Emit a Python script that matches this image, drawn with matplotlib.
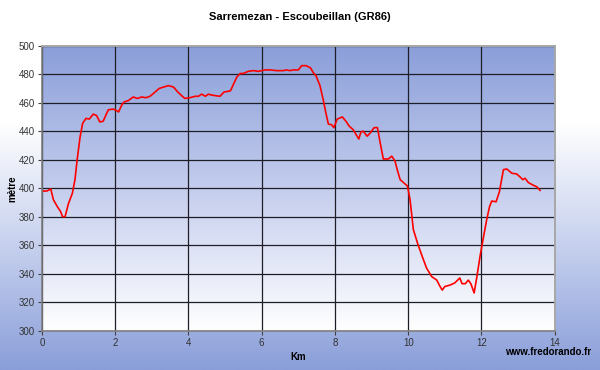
import numpy as np
import matplotlib
matplotlib.use("Agg")
import matplotlib.pyplot as plt
from matplotlib.colors import LinearSegmentedColormap

title = "Sarremezan - Escoubeillan (GR86)"
xlabel = "Km"
ylabel = "mètre"
credit = "www.fredorando.fr"
xticks = [0, 2, 4, 6, 8, 10, 12, 14]
yticks = [300, 320, 340, 360, 380, 400, 420, 440, 460, 480, 500]

km = [0.00, 0.13, 0.24, 0.31, 0.42, 0.51, 0.56, 0.63, 0.72, 0.83, 0.90, 0.96,
      1.04, 1.11, 1.20, 1.29, 1.40, 1.49, 1.58, 1.67, 1.75, 1.81, 1.93, 2.00,
      2.09, 2.18, 2.24, 2.36, 2.49, 2.60, 2.72, 2.84, 2.95, 3.09, 3.20, 3.33,
      3.45, 3.59, 3.69, 3.79, 3.90, 4.04, 4.18, 4.27, 4.36, 4.46, 4.54, 4.61,
      4.72, 4.86, 4.97, 5.09, 5.15, 5.22, 5.32, 5.41, 5.50, 5.63, 5.77, 5.91,
      6.00, 6.09, 6.23, 6.41, 6.59, 6.68, 6.77, 6.86, 7.00, 7.09, 7.21, 7.33,
      7.41, 7.48, 7.59, 7.68, 7.75, 7.82, 7.91, 7.97, 8.06, 8.20, 8.30, 8.39,
      8.50, 8.57, 8.65, 8.71, 8.77, 8.88, 8.97, 9.07, 9.16, 9.23, 9.32, 9.46,
      9.55, 9.64, 9.70, 9.78, 9.87, 9.98, 10.05, 10.14, 10.26, 10.37, 10.50,
      10.64, 10.78, 10.87, 10.93, 11.00, 11.14, 11.27, 11.41, 11.47, 11.56,
      11.64, 11.71, 11.80, 11.87, 11.96, 12.05, 12.14, 12.22, 12.28, 12.40,
      12.49, 12.60, 12.69, 12.83, 12.96, 13.05, 13.13, 13.19, 13.28, 13.42,
      13.51, 13.60]
alt = [398, 398, 399.5, 392, 387, 383.5, 380, 380, 389, 396.5, 406, 420,
       436, 445.5, 449, 448.5, 452, 451, 446.5, 447, 451.5, 455, 455.5, 455,
       453.5, 458.5, 460.5, 461.5, 464, 463, 464, 463.5, 464.5, 467.5, 470, 471,
       472, 471, 468, 465.5, 463, 463.5, 464.5, 464.5, 466, 464.5, 466, 465.5,
       465, 464.5, 467.5, 468, 468.5, 472.5, 478, 480.5, 480.5, 482, 482.5, 482,
       482.5, 483, 483, 482.5, 482.5, 483, 482.5, 483, 483, 486, 486, 484.5,
       481, 479, 472, 462, 453, 445, 444.5, 442.5, 448.5, 450, 447, 443.5,
       441, 438, 434.5, 439.5, 440, 436.5, 439, 442.5, 442.5, 432.5, 420.5, 420.5,
       422.5, 419, 413, 406, 404, 401.5, 392, 371, 361, 353, 344,
       338, 335.5, 331, 328.5, 331, 332, 333.5, 337, 333, 333,
       335.5, 333, 326.5, 337, 352, 365, 377.5, 387, 391, 390.5,
       397.5, 413, 413.5, 410.5, 410, 408, 406, 407, 404, 402,
       401, 398.5]

plt.rcParams['font.family'] = ['Liberation Sans', 'DejaVu Sans']

fig = plt.figure(figsize=(6, 3.7), dpi=100)

# figure background gradient (white top -> blue bottom)
bg = fig.add_axes([0, 0, 1, 1], zorder=-10)
bg.axis('off')
cm_fig = LinearSegmentedColormap.from_list('f', ['#ffffff', '#ffffff', '#c6d0ee', '#8a9ed9'], N=256)
grad = np.linspace(0, 1, 256).reshape(-1, 1)
bg.imshow(grad, aspect='auto', cmap=cm_fig, extent=[0, 1, 0, 1], origin='upper')

ax = fig.add_axes([0.07, 0.1062, 0.8545, 0.7703])
cm_ax = LinearSegmentedColormap.from_list('a', ['#8a9ed9', '#c4cded', '#ffffff'], N=256)
ax.imshow(grad, aspect='auto', cmap=cm_ax, extent=[0, 1, 0, 1],
          transform=ax.transAxes, origin='upper', zorder=0)

ax.set_xlim(0, 14)
ax.set_ylim(300, 500)
ax.set_xticks(xticks)
ax.set_yticks(yticks)
ax.grid(True, color='#1e1e28', linewidth=0.9, zorder=1)
ax.set_axisbelow(True)
ax.plot(km, alt, color='#ff0000', linewidth=1.2, zorder=3)

for s in ['left', 'bottom']:
    ax.spines[s].set_color('#7f7f7f')
    ax.spines[s].set_linewidth(1.2)
for s in ['top', 'right']:
    ax.spines[s].set_color('#a8a8a8')
    ax.spines[s].set_linewidth(1.4)
for s in ax.spines.values():
    s.set_zorder(6)
ax.tick_params(axis='both', colors='#404040', labelsize=7, length=3, width=0.8,
               labelcolor='#333333', pad=2)

ax.set_xlabel(xlabel, fontsize=7, fontweight='bold', labelpad=3)
ax.set_ylabel(ylabel, fontsize=7, fontweight='bold', labelpad=1)
fig.text(0.5, 0.953, title, ha='center', va='center', fontsize=8, fontweight='bold')
fig.text(0.985, 0.048, credit, ha='right', va='center', fontsize=7, fontweight='bold')

fig.savefig('out.png', dpi=100)
